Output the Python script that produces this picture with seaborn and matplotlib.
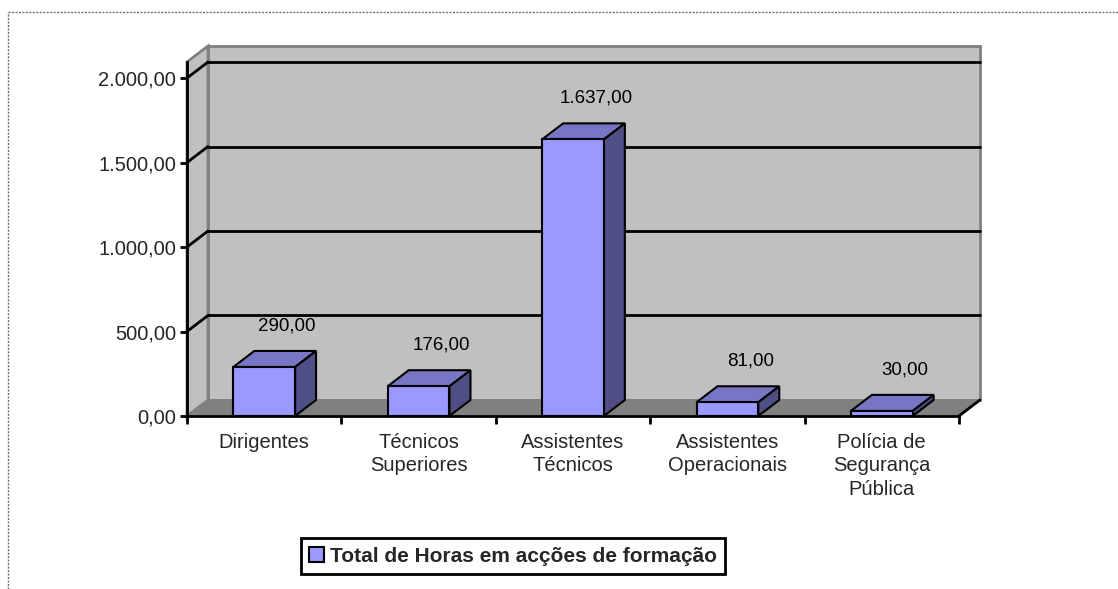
import seaborn as sns
import matplotlib.pyplot as plt
from matplotlib.patches import Polygon
from matplotlib.lines import Line2D
from matplotlib.ticker import FixedLocator, FuncFormatter

# data
categories = ["Dirigentes", "Técnicos\nSuperiores", "Assistentes\nTécnicos",
              "Assistentes\nOperacionais", "Polícia de\nSegurança\nPública"]
hours = [290, 176, 1637, 81, 30]
yticks = [0, 500, 1000, 1500, 2000]
series_label = "Total de Horas em acções de formação"

sns.set_theme(style="white")
plt.rcParams["font.family"] = ["Liberation Sans", "DejaVu Sans"]

FRONT = "#9999FF"
TOP = "#7676C4"
SIDE = "#4F4F85"
WALL = "#C0C0C0"
FLOOR = "#808080"
YMAX = 2095
DX, DY = 0.136, 95  # depth of the fake 3d box, in data units


def pt_fmt(v, pos=None):
    s = f"{v:,.2f}"
    return s.replace(",", "X").replace(".", ",").replace("X", ".")


f = plt.figure(figsize=(11.18, 5.89), dpi=100)
ax = f.add_axes([0.16726, 0.2937, 0.6905, 0.601])

sns.barplot(x=categories, y=hours, color=FRONT, width=0.4, edgecolor="black",
            linewidth=1.5, saturation=1, label=series_label, ax=ax, zorder=4)
ax.set_xlim(-0.5, 4.5)
ax.set_ylim(0, YMAX)
x0, x1 = -0.5, 4.5

# back wall, left side wall and floor
ax.add_patch(Polygon([(x0 + DX, DY), (x1 + DX, DY), (x1 + DX, YMAX + DY), (x0 + DX, YMAX + DY)],
                     facecolor=WALL, edgecolor=FLOOR, lw=2, zorder=0, clip_on=False))
ax.add_patch(Polygon([(x0, 0), (x0, YMAX), (x0 + DX, YMAX + DY), (x0 + DX, DY)],
                     facecolor=WALL, edgecolor=FLOOR, lw=2, zorder=0.5, clip_on=False))
for v in yticks[1:]:
    ax.plot([x0 + DX, x1 + DX], [v + DY, v + DY], color="black", lw=2, zorder=1, clip_on=False)
    ax.plot([x0, x0 + DX], [v, v + DY], color="black", lw=2, zorder=1, clip_on=False)
ax.add_patch(Polygon([(x0, 0), (x1, 0), (x1 + DX, DY), (x0 + DX, DY)],
                     facecolor=FLOOR, edgecolor=FLOOR, lw=1, zorder=1.5, clip_on=False))
ax.plot([x1, x1 + DX], [0, DY], color="black", lw=2, zorder=1.6, clip_on=False)

# top and side faces of the columns
for p, v in zip(ax.patches[:len(hours)], hours):
    bx, bw, bh = p.get_x(), p.get_width(), p.get_height()
    ax.add_patch(Polygon([(bx, bh), (bx + bw, bh), (bx + bw + DX, bh + DY), (bx + DX, bh + DY)],
                         facecolor=TOP, edgecolor="black", lw=1.5, zorder=3.5, clip_on=False))
    ax.add_patch(Polygon([(bx + bw, 0), (bx + bw, bh), (bx + bw + DX, bh + DY), (bx + bw + DX, DY)],
                         facecolor=SIDE, edgecolor="black", lw=1.5, zorder=3.5, clip_on=False))
    ax.annotate(pt_fmt(v), xy=(bx + bw / 2 + DX, bh + DY), xytext=(2, 25),
                textcoords="offset pixels", ha="center", va="center", fontsize=13.5,
                color="black", zorder=5, annotation_clip=False)

# axes
ax.set_facecolor("white")
for s in ["top", "right"]:
    ax.spines[s].set_visible(False)
for s in ["left", "bottom"]:
    ax.spines[s].set_color("black")
    ax.spines[s].set_linewidth(2)
    ax.spines[s].set_zorder(2)
ax.set_yticks(yticks)
ax.yaxis.set_major_formatter(FuncFormatter(pt_fmt))
ax.tick_params(axis="y", direction="out", length=5, width=2, color="black",
               labelsize=14.5, pad=3, left=True)
ax.xaxis.set_minor_locator(FixedLocator([-0.5, 0.5, 1.5, 2.5, 3.5, 4.5]))
ax.tick_params(axis="x", which="major", length=0, labelsize=14.5, pad=12)
ax.tick_params(axis="x", which="minor", direction="out", length=6, width=2,
               color="black", bottom=True)
plt.setp(ax.get_xticklabels(), linespacing=1.3)
ax.set(xlabel="", ylabel="")
ax.grid(False)

leg = ax.legend(loc="center", bbox_to_anchor=(513 / 1118, 1 - 556 / 589),
                bbox_transform=f.transFigure, frameon=True, fancybox=False,
                edgecolor="black", framealpha=1, handlelength=0.7, handleheight=0.7,
                handletextpad=0.3, borderpad=0.4,
                prop={"weight": "bold", "size": 15})
leg.get_frame().set_linewidth(2)

# dotted outer chart border
f.add_artist(Line2D([8 / 1118, 1], [1 - 12 / 589, 1 - 12 / 589], color="#707070",
                    lw=1, ls=(0, (1.5, 1)), transform=f.transFigure))
f.add_artist(Line2D([8 / 1118, 8 / 1118], [0, 1 - 12 / 589], color="#707070",
                    lw=1, ls=(0, (1.5, 1)), transform=f.transFigure))

f.savefig("out.png", dpi=100)
